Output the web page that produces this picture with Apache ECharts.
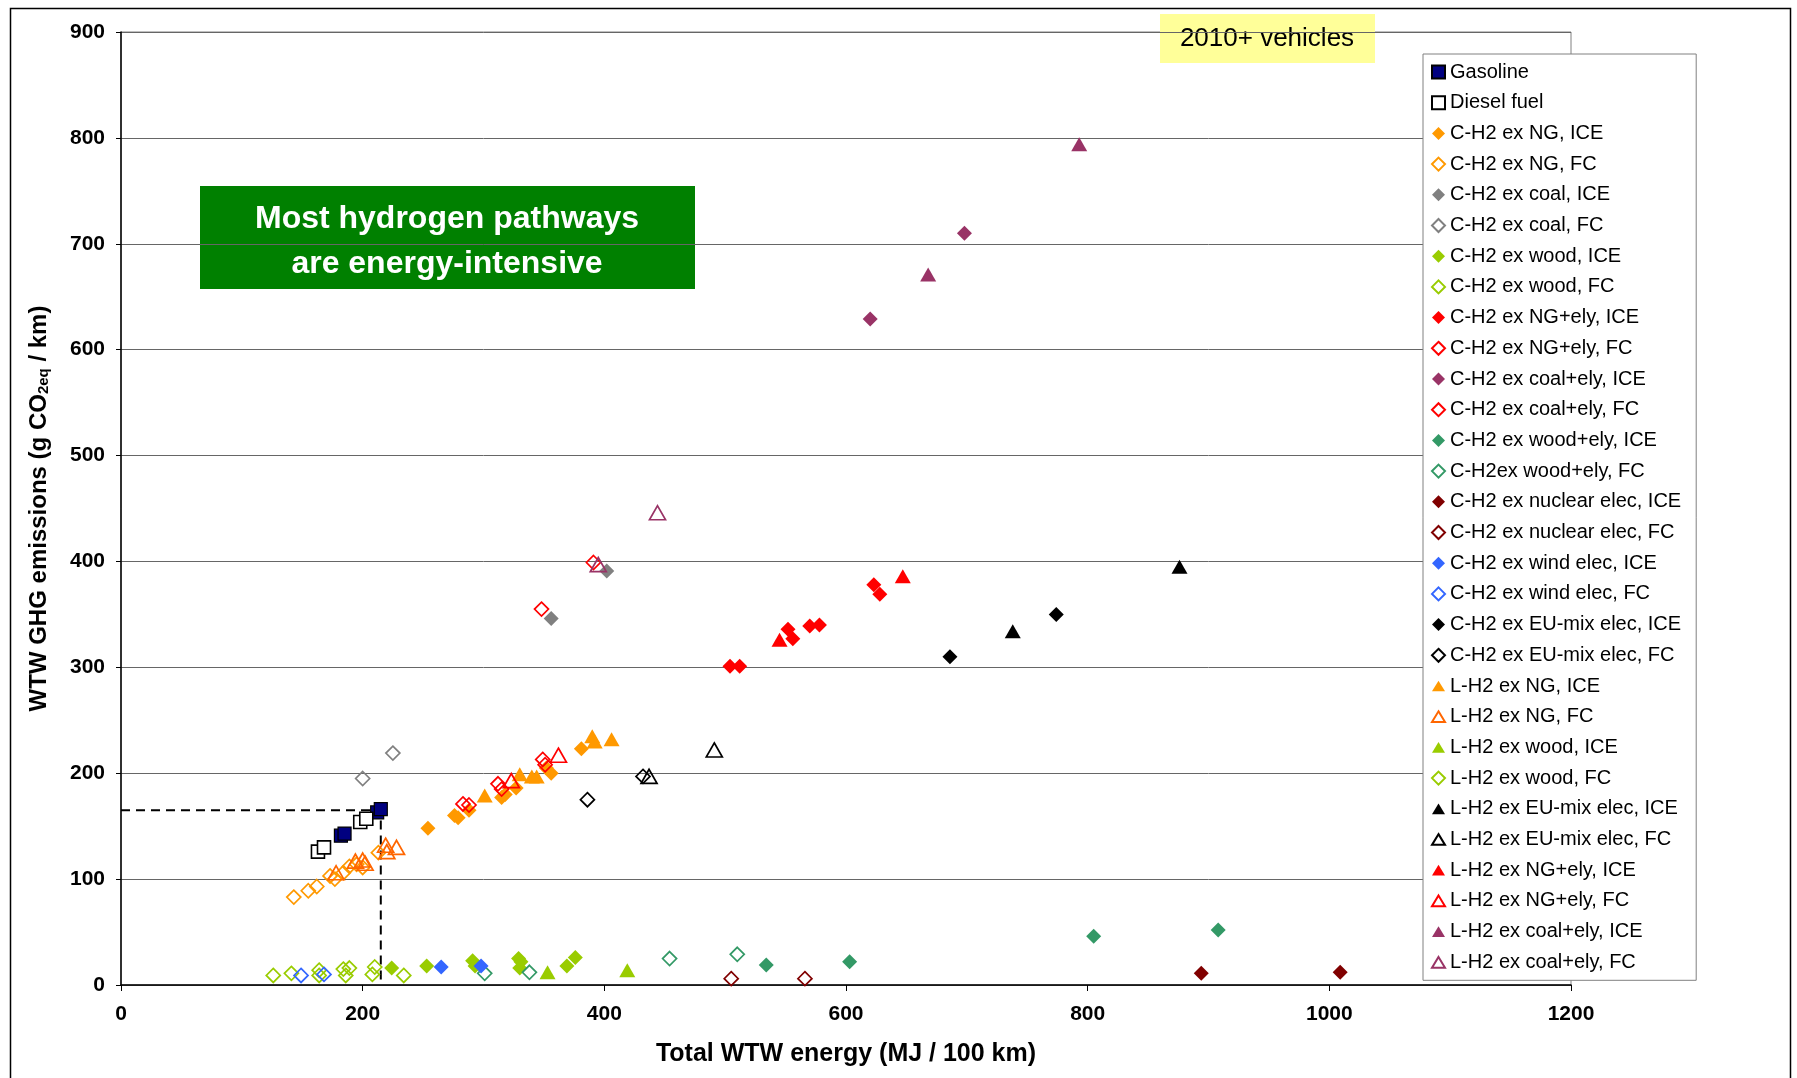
<!DOCTYPE html>
<html><head><meta charset="utf-8">
<script src="https://cdn.jsdelivr.net/npm/echarts@6/dist/echarts.min.js"></script>
<style>html,body{margin:0;padding:0;background:#fff}#c{width:1797px;height:1078px}</style>
</head><body><div id="c"></div>
<script>
// ---- axes ----
const xMin = 0, xMax = 1200, xStep = 200;
const yMin = 0, yMax = 900, yStep = 100;

// ---- reference (dashed) line: gasoline/diesel benchmark ----
const refLine = [[0, 165], [215, 165], [215, 0]];

// ---- series values [energy MJ/100km, GHG g CO2eq/km] ----
const gasoline        = [[182,141],[185,143],[212,163],[215,166]];
const diesel          = [[163,126],[168,130],[198,154],[203,157]];
const ch2NgIce        = [[254,148],[276,160],[279,158],[288,165],[315,177],[318,180],[327,186],[352,205],[356,200],[381,223]];
const ch2NgFc         = [[143,83],[155,89],[162,93],[173,103],[177,100],[184,106],[189,112],[195,114],[200,111],[213,125]];
const ch2CoalIce      = [[356,346],[402,391]];
const ch2CoalFc       = [[200,195],[225,219]];
const ch2WoodIce      = [[224,16],[253,18],[291,23],[293,18],[329,25],[330,16],[331,22],[369,18],[376,26]];
const ch2WoodFc       = [[126,9],[141,11],[164,14],[164,9],[184,15],[186,9],[189,16],[234,9]];
const ch2NgElyIce     = [[504,301],[512,301],[552,336],[556,327],[570,339],[578,340],[623,378],[628,369]];
const ch2NgElyFc      = [[283,171],[288,170],[312,190],[315,185],[349,213],[351,208]];
const ch2CoalElyIce   = [[620,629],[698,710]];
const ch2CoalElyFc    = [[348,355],[391,399]];
const ch2WoodElyIce   = [[534,19],[603,22],[805,46],[908,52]];
const ch2WoodElyFc    = [[301,11],[338,12],[454,25],[510,29]];
const ch2NuclearIce   = [[894,11],[1009,12]];
const ch2NuclearFc    = [[505,6],[566,6]];
const ch2WindIce      = [[265,17],[298,18]];
const ch2WindFc       = [[149,9],[168,10]];
const ch2EuMixIce     = [[686,310],[774,350]];
const ch2EuMixFc      = [[386,175],[432,197]];
const lh2NgIce        = [[301,179],[330,199],[340,197],[344,197],[390,235],[392,230],[406,232]];
const lh2NgFc         = [[178,106],[194,117],[200,118],[202,115],[219,132],[220,126],[228,130]];
const lh2WoodIce      = [[353,12],[419,14]];
const lh2WoodFc       = [[210,17],[208,10]];
const lh2EuMixIce     = [[738,334],[876,395]];
const lh2EuMixFc      = [[437,197],[491,222]];
const lh2NgElyIce     = [[545,326],[647,386]];
const lh2NgElyFc      = [[323,193],[362,217]];
const lh2CoalElyIce   = [[668,671],[793,794]];
const lh2CoalElyFc    = [[395,397],[444,446]];

const seriesNames = [
  'Gasoline','Diesel fuel','C-H2 ex NG, ICE','C-H2 ex NG, FC','C-H2 ex coal, ICE','C-H2 ex coal, FC',
  'C-H2 ex wood, ICE','C-H2 ex wood, FC','C-H2 ex NG+ely, ICE','C-H2 ex NG+ely, FC','C-H2 ex coal+ely, ICE',
  'C-H2 ex coal+ely, FC','C-H2 ex wood+ely, ICE','C-H2ex wood+ely, FC','C-H2 ex nuclear elec, ICE',
  'C-H2 ex nuclear elec, FC','C-H2 ex wind elec, ICE','C-H2 ex wind elec, FC','C-H2 ex EU-mix elec, ICE',
  'C-H2 ex EU-mix elec, FC','L-H2 ex NG, ICE','L-H2 ex NG, FC','L-H2 ex wood, ICE','L-H2 ex wood, FC',
  'L-H2 ex EU-mix elec, ICE','L-H2 ex EU-mix elec, FC','L-H2 ex NG+ely, ICE','L-H2 ex NG+ely, FC',
  'L-H2 ex coal+ely, ICE','L-H2 ex coal+ely, FC'
];
const seriesData = [
  gasoline, diesel, ch2NgIce, ch2NgFc, ch2CoalIce, ch2CoalFc, ch2WoodIce, ch2WoodFc, ch2NgElyIce, ch2NgElyFc,
  ch2CoalElyIce, ch2CoalElyFc, ch2WoodElyIce, ch2WoodElyFc, ch2NuclearIce, ch2NuclearFc, ch2WindIce, ch2WindFc,
  ch2EuMixIce, ch2EuMixFc, lh2NgIce, lh2NgFc, lh2WoodIce, lh2WoodFc, lh2EuMixIce, lh2EuMixFc, lh2NgElyIce,
  lh2NgElyFc, lh2CoalElyIce, lh2CoalElyFc
];

// ---- styles ----
const DIA = 'path://M0,-10L10,0L0,10L-10,0Z';
const TRI = 'path://M0,-10L11.5,9L-11.5,9Z';
const SQ = 'rect';
// [symbol, color, filled]
const seriesStyle = [
  [SQ,'#000080','sq'], [SQ,'#000000','sqo'],
  [DIA,'#FF9900',1],[DIA,'#FF9900',0],[DIA,'#808080',1],[DIA,'#808080',0],
  [DIA,'#99CC00',1],[DIA,'#99CC00',0],[DIA,'#FF0000',1],[DIA,'#FF0000',0],
  [DIA,'#993366',1],[DIA,'#FF0000',0],[DIA,'#339966',1],[DIA,'#339966',0],
  [DIA,'#800000',1],[DIA,'#800000',0],[DIA,'#3366FF',1],[DIA,'#3366FF',0],
  [DIA,'#000000',1],[DIA,'#000000',0],
  [TRI,'#FF9900',1],[TRI,'#FF6600',0],[TRI,'#99CC00',1],[DIA,'#99CC00',0],
  [TRI,'#000000',1],[TRI,'#000000',0],[TRI,'#FF0000',1],[TRI,'#FF0000',0],
  [TRI,'#993366',1],[TRI,'#993366',0]
];

function makeSeries(i) {
  const [sym, col, f] = seriesStyle[i];
  let itemStyle, size;
  if (f === 'sq') { itemStyle = {color: col, borderColor: '#000', borderWidth: 1.2, opacity: 1}; size = 13; }
  else if (f === 'sqo') { itemStyle = {color: '#fff', borderColor: col, borderWidth: 1.6, opacity: 1}; size = 13; }
  else if (f === 1) { itemStyle = {color: col, borderWidth: 0, opacity: 1}; size = sym === TRI ? [16, 14] : 15; }
  else { itemStyle = {color: 'rgba(255,255,255,0)', borderColor: col, borderWidth: 1.7, opacity: 1}; size = sym === TRI ? [16, 14] : 14; }
  return {
    type: 'scatter', name: seriesNames[i], data: seriesData[i],
    symbol: sym, symbolSize: size, itemStyle: itemStyle, z: 3,
    emphasis: {disabled: true}, animation: false
  };
}

const series = [{
  type: 'line', name: 'ref', data: refLine, showSymbol: false, symbol: 'none',
  lineStyle: {color: '#000', width: 2, type: [9, 6]}, z: 2, animation: false, silent: true
}];
for (let i = 0; i < seriesNames.length; i++) series.push(makeSeries(i));

const FONT = '"Liberation Sans", Arial, sans-serif';
const chart = echarts.init(document.getElementById('c'), null, {renderer: 'canvas'});
chart.setOption({
  backgroundColor: '#fff',
  animation: false,
  grid: {left: 121, top: 32, width: 1450, height: 953, show: true, borderColor: '#808080', borderWidth: 1, containLabel: false},
  xAxis: {
    type: 'value', min: xMin, max: xMax, interval: xStep,
    name: 'Total WTW energy (MJ / 100 km)', nameLocation: 'middle', nameGap: 57,
    nameTextStyle: {fontFamily: FONT, fontWeight: 'bold', fontSize: 25, color: '#000'},
    axisLine: {show: true, lineStyle: {color: '#000', width: 1.5}},
    axisTick: {show: true, length: 6, lineStyle: {color: '#000'}},
    axisLabel: {fontFamily: FONT, fontWeight: 'bold', fontSize: 21, color: '#000', margin: 19, formatter: v => String(v)},
    splitLine: {show: false}
  },
  yAxis: {
    type: 'value', min: yMin, max: yMax, interval: yStep,
    name: '{t|WTW GHG emissions (g CO}{s|2eq}{t| / km)}', nameLocation: 'middle', nameGap: 70, nameRotate: 90,
    nameTextStyle: {rich: {
      t: {fontFamily: FONT, fontWeight: 'bold', fontSize: 24, color: '#000'},
      s: {fontFamily: FONT, fontWeight: 'bold', fontSize: 15, color: '#000', verticalAlign: 'bottom', padding: [9, 0, 0, 0]}
    }},
    axisLine: {show: true, lineStyle: {color: '#000', width: 1.5}},
    axisTick: {show: true, length: 5, lineStyle: {color: '#000'}},
    axisLabel: {fontFamily: FONT, fontWeight: 'bold', fontSize: 21, color: '#000', margin: 16, formatter: v => String(v)},
    splitLine: {show: true, lineStyle: {color: '#666', width: 1}}
  },
  legend: {
    data: seriesNames, orient: 'vertical', left: 1423, top: 54,
    backgroundColor: '#fff', borderColor: '#808080', borderWidth: 1,
    padding: [8, 15, 8, 8], itemWidth: 13, itemHeight: 13, itemGap: 10.7,
    textStyle: {fontFamily: FONT, fontSize: 20, color: '#000'},
    selectedMode: false
  },
  graphic: [
    {type: 'rect', left: 8, top: 6, shape: {width: 1780, height: 1100}, style: {fill: 'none', stroke: '#000', lineWidth: 1.5}, z: 100, silent: true},
    {type: 'group', left: 200, top: 186, z: 100, children: [
      {type: 'rect', shape: {x: 0, y: 0, width: 495, height: 103}, style: {fill: '#008000'}},
      {type: 'text', x: 247, y: 33, style: {text: 'Most hydrogen pathways', fill: '#fff', font: 'bold 32px ' + FONT, textAlign: 'center', textVerticalAlign: 'middle'}},
      {type: 'text', x: 247, y: 78, style: {text: 'are energy-intensive', fill: '#fff', font: 'bold 32px ' + FONT, textAlign: 'center', textVerticalAlign: 'middle'}}
    ]},
    {type: 'group', left: 1160, top: 14, z: 100, children: [
      {type: 'rect', shape: {x: 0, y: 0, width: 215, height: 49}, style: {fill: '#FFFF99'}},
      {type: 'text', x: 107, y: 25, style: {text: '2010+ vehicles', fill: '#000', font: '26px ' + FONT, textAlign: 'center', textVerticalAlign: 'middle'}}
    ]}
  ],
  series: series
});
</script></body></html>
